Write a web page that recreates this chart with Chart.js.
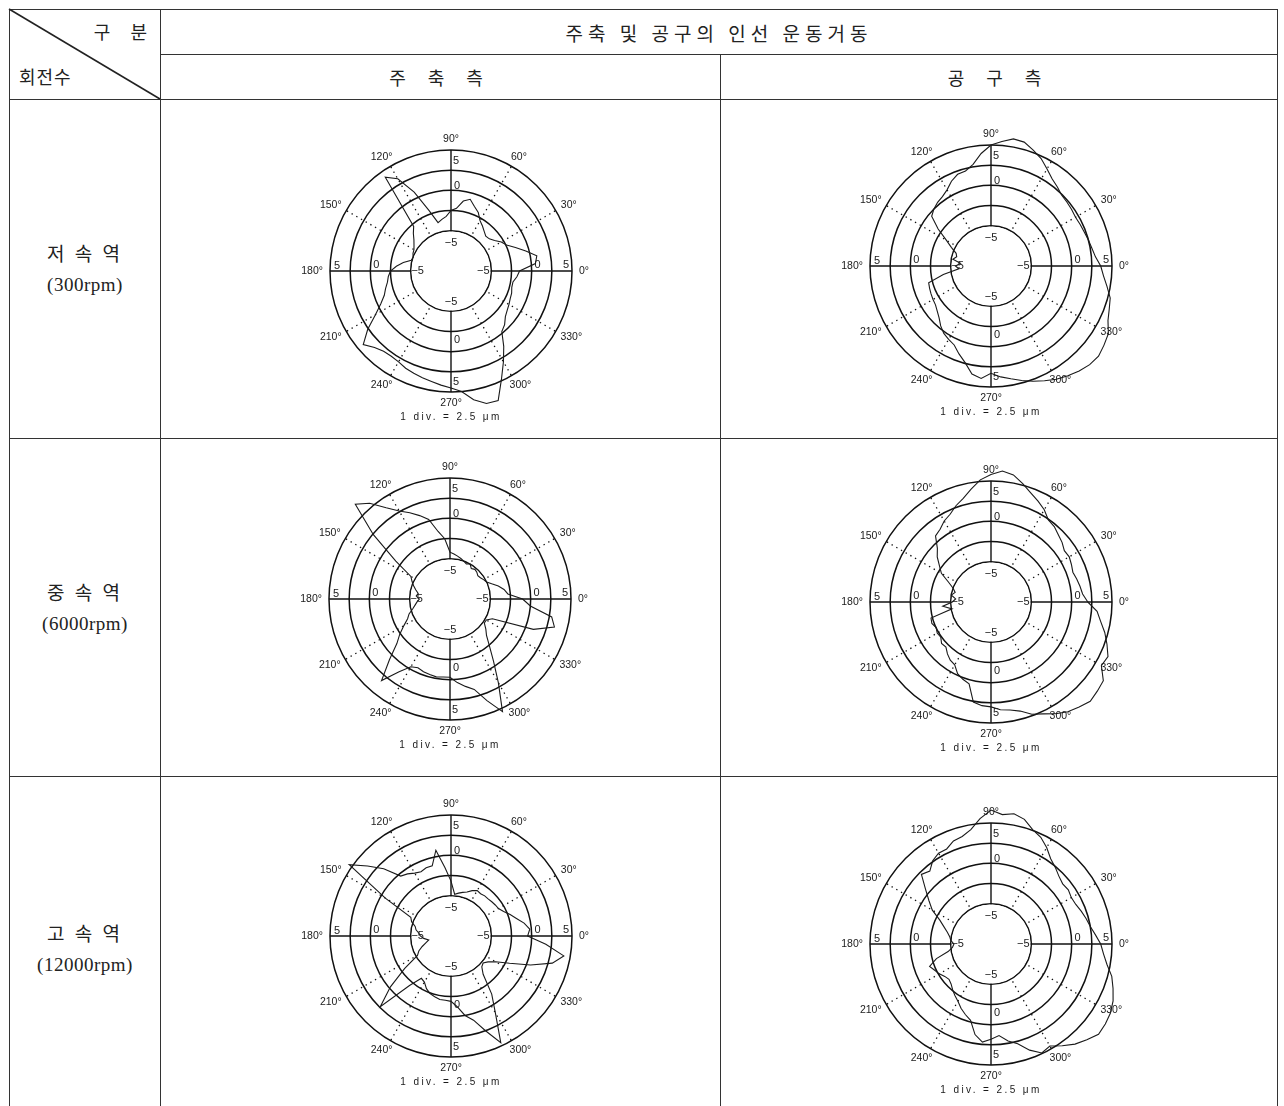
<!DOCTYPE html>
<html>
<head>
<meta charset="utf-8">
<script src="https://cdn.jsdelivr.net/npm/chart.js@4.4.1/dist/chart.umd.min.js"></script>
<style>
    body { margin: 0; background: #fff; width: 1284px; height: 1106px; overflow: hidden; position: relative; }
    table { position: absolute; left: 9px; top: 9px; border-collapse: collapse; table-layout: fixed; }
    td { border: 1.5px solid #333; padding: 0; text-align: center; vertical-align: middle; color: #222;
         font-family: "Noto Sans CJK KR", sans-serif; font-size: 18px; }
    .spaced { letter-spacing: 9px; }
    .title { font-size: 19px; letter-spacing: 5px; }
    .corner { position: relative; }
    .gb { position: absolute; right: 5px; top: 8px; letter-spacing: 8px; }
    .rs { position: absolute; left: 9px; bottom: 10px; letter-spacing: 1px; }
    .rowlab { line-height: 30px; }
    .rowname { font-size: 19px; letter-spacing: 3px; }
    .rpm { font-family: "Liberation Serif", serif; font-size: 19px; letter-spacing: 0.5px; }
    .panel { position: absolute; width: 340px; height: 340px; }
    svg.diag { position: absolute; left: 0; top: 0; }
</style>
</head>
<body>
<table>
    <colgroup><col style="width:151px"><col style="width:560px"><col style="width:557px"></colgroup>
    <tr style="height:45px">
        <td rowspan="2" class="corner"><span class="gb">구 분</span><span class="rs">회전수</span></td>
        <td colspan="2" class="title">주축 및 공구의 인선 운동거동</td>
    </tr>
    <tr style="height:45px">
        <td class="spaced">주 축 측</td>
        <td class="spaced">공 구 측</td>
    </tr>
    <tr style="height:339px">
        <td class="rowlab"><span class="rowname">저 속 역</span><br><span class="rpm">(300rpm)</span></td><td></td><td></td>
    </tr>
    <tr style="height:338px">
        <td class="rowlab"><span class="rowname">중 속 역</span><br><span class="rpm">(6000rpm)</span></td><td></td><td></td>
    </tr>
    <tr style="height:345px">
        <td class="rowlab"><span class="rowname">고 속 역</span><br><span class="rpm">(12000rpm)</span></td><td></td><td></td>
    </tr>
</table>
<svg class="diag" width="170" height="110"><line x1="9" y1="9" x2="160" y2="99" stroke="#222" stroke-width="1.6"/></svg>

<div class="panel" style="left:281px;top:101px"><canvas id="c1"></canvas></div>
<div class="panel" style="left:821px;top:96px"><canvas id="c2"></canvas></div>
<div class="panel" style="left:280px;top:429px"><canvas id="c3"></canvas></div>
<div class="panel" style="left:821px;top:432px"><canvas id="c4"></canvas></div>
<div class="panel" style="left:281px;top:766px"><canvas id="c5"></canvas></div>
<div class="panel" style="left:821px;top:774px"><canvas id="c6"></canvas></div>

<script>
// measuring angle (deg, counter-clockwise from 0°)
const angles = [0, 5, 10, 15, 20, 25, 30, 35, 40, 45, 50, 55,
    60, 65, 70, 75, 80, 85, 90, 95, 100, 105, 110, 115,
    120, 125, 130, 135, 140, 145, 150, 155, 160, 165, 170, 175,
    180, 185, 190, 195, 200, 205, 210, 215, 220, 225, 230, 235,
    240, 245, 250, 255, 260, 265, 270, 275, 280, 285, 290, 295,
    300, 305, 310, 315, 320, 325, 330, 335, 340, 345, 350, 355];

// 주축 측 / 공구 측 runout (μm) at each angle
const mainLow = [-1.5, 0.5, 0.8, -0.4, -1.5, -2.4, -2.8, -3.4, -3.8, -3.9, -3.6, -3.2,
    -2.8, -2.0, -1.5, -0.8, -1.2, -2.2, -2.5, -3.2, -3.5, -3.8, -2.0, 0.8,
    3.2, 4.2, -2.8, -3.4, -4.0, -4.4, -4.7, -4.8, -5.0, -4.9, -4.0, -3.2,
    -2.5, -2.2, -2.0, -1.6, -1.2, -0.4, 0.8, 2.6, 4.2, 3.4, 3.0, 2.9,
    3.0, 3.3, 3.5, 3.7, 3.9, 4.2, 4.5, 5.0, 6.2, 7.0, 7.1, 4.8,
    3.0, 1.4, -0.2, -0.6, -1.2, -1.5, -1.7, -1.9, -2.0, -2.2, -2.2, -1.8];
const toolLow = [3.6, 3.0, 2.7, 2.5, 2.3, 2.2, 2.1, 2.2, 2.3, 2.4, 2.8, 3.2,
    3.9, 4.7, 5.3, 5.9, 6.0, 5.5, 5.0, 4.0, 2.8, 2.2, 2.1, 1.6,
    0.9, 0.5, 0.3, 0.0, -0.4, -2.0, -3.6, -4.6, -5.4, -5.6, -5.2, -6.2,
    -5.6, -6.0, -4.0, -2.0, -1.9, -1.8, -1.7, -1.6, -1.3, -0.9, -0.3, 0.2,
    0.5, 0.8, 1.6, 2.4, 3.6, 4.0, 3.3, 3.8, 4.2, 4.7, 5.2, 5.7,
    6.2, 6.6, 7.0, 7.3, 7.4, 7.1, 6.8, 6.0, 5.6, 5.3, 4.6, 4.0];
const mainMid = [-1.0, -2.8, -3.2, -3.8, -4.5, -5.0, -5.2, -5.4, -5.5, -5.3, -5.2, -5.4,
    -5.0, -5.2, -5.0, -4.8, -4.6, -4.4, -4.2, -2.5, -1.5, 0.2, 1.0, 1.8,
    2.6, 3.8, 5.5, 6.6, 2.4, -1.8, -4.4, -4.8, -5.2, -5.6, -6.0, -5.8,
    -6.2, -5.9, -5.6, -5.2, -4.6, -4.2, -3.4, -2.4, -1.4, 0.6, 3.2, 1.0,
    -0.3, -0.6, -0.4, -0.3, -0.2, -0.3, -0.3, 0.4, 1.0, 1.6, 3.4, 5.4,
    2.0, -0.6, -2.4, -3.6, -4.2, -4.8, -4.8, -4.2, 1.0, 3.4, 2.8, 0.0];
const toolMid = [2.0, 1.4, 1.2, 1.0, 0.8, 1.0, 1.2, 1.1, 1.5, 1.8, 2.2, 2.4,
    3.2, 3.8, 4.4, 5.2, 6.0, 6.3, 5.8, 5.2, 4.2, 3.3, 2.7, 2.0,
    1.6, 1.0, 0.7, -0.6, -1.3, -2.2, -2.9, -4.2, -5.0, -5.4, -5.0, -5.6,
    -5.2, -4.0, -5.1, -2.3, -2.2, -2.5, -2.3, -2.4, -2.0, -2.1, -1.6, -1.2,
    -1.0, -0.2, 0.2, 0.5, 2.6, 2.9, 3.0, 3.4, 3.6, 4.0, 4.8, 5.3,
    6.0, 6.6, 7.0, 7.4, 7.2, 7.0, 5.8, 6.0, 5.3, 4.6, 3.8, 3.2];
const mainHigh = [-0.5, -0.2, -0.8, -1.6, -2.2, -2.8, -3.2, -3.3, -3.4, -3.5, -3.5, -3.6,
    -3.5, -3.8, -4.2, -4.4, -4.6, -4.8, -3.2, -1.5, 0.8, -1.0, -1.0, -1.2,
    -1.0, -0.6, -0.3, 1.8, 3.5, 5.4, -0.6, -4.5, -4.8, -5.4, -5.6, -6.0,
    -6.2, -6.6, -7.2, -6.8, -6.2, -5.6, -5.2, -3.0, -0.2, 2.4, -2.0, -3.6,
    -3.4, -2.8, -2.4, -2.2, -2.0, -2.0, -1.9, -1.2, 0.0, 0.8, 2.5, 4.6,
    1.0, -1.2, -3.8, -4.6, -4.8, -4.4, -3.6, -2.0, 0.5, 3.0, 4.2, 1.8];
const toolHigh = [3.6, 3.0, 2.5, 2.2, 1.9, 1.6, 1.5, 1.7, 1.6, 1.9, 2.4, 2.9,
    3.8, 4.6, 5.1, 6.0, 6.4, 6.1, 6.6, 5.6, 4.4, 3.8, 3.6, 3.0,
    3.0, 2.6, 1.8, 2.2, 0.6, -0.6, -1.6, -3.0, -3.8, -4.4, -4.8, -5.0,
    -5.4, -5.2, -4.6, -3.0, -1.9, -2.3, -2.6, -3.0, -3.2, -3.0, -2.6, -2.2,
    -1.8, -1.2, -0.7, -0.2, 1.4, 2.2, 1.8, 1.4, 2.2, 2.8, 4.0, 4.9,
    4.6, 5.4, 6.2, 6.8, 7.4, 7.3, 7.1, 6.7, 6.1, 5.5, 4.6, 4.0];

// axis ticks and labels
const ringTicks = [-5, 0, 5];
const angleTicks = [0, 30, 60, 90, 120, 150, 180, 210, 240, 270, 300, 330];
const divNote = '1 div. = 2.5 μm';

// where each ring number sits next to the axis: [value, axis angle, radial shift, dx, dy]
const ringSpots = [
    [-5, 180, -7, 0, 0], [0, 180, -6, 0, -6], [5, 180, -7, 0, -5],
    [-5, 0, -8, 0, 0], [0, 0, 6, 0, -6], [5, 0, -6, 0, -6],
    [-5, 90, -12, 0, 0], [0, 90, 4, 6, 0], [5, 90, -11, 5, 0],
    [-5, 270, -9, 0, 0], [0, 270, -12, 6, 0], [5, 270, -10, 5, 0]
];

const polarDecor = {
    id: 'polarDecor',
    beforeDatasetsDraw(chart) {
        const s = chart.scales.r;
        const ctx = chart.ctx;
        const cx = s.xCenter, cy = s.yCenter;
        const R = s.drawingArea;
        ctx.save();
        // the plot is empty inside the -5 ring
        ctx.fillStyle = '#fff';
        ctx.beginPath();
        ctx.arc(cx, cy, s.getDistanceFromCenterForValue(-5) - 0.9, 0, Math.PI * 2);
        ctx.fill();

        ctx.fillStyle = '#1a1a1a';
        ctx.textAlign = 'center';
        ctx.textBaseline = 'middle';
        ctx.font = '11px "Liberation Sans"';
        ringSpots.forEach(([v, a, shift, dx, dy]) => {
            if (!ringTicks.includes(v)) return;
            const d = s.getDistanceFromCenterForValue(v) + shift;
            const rad = a * Math.PI / 180;
            const text = v < 0 ? '−' + Math.abs(v) : String(v);
            ctx.fillText(text, cx + Math.cos(rad) * d + dx, cy - Math.sin(rad) * d + dy);
        });

        ctx.font = '10.5px "Liberation Sans"';
        angleTicks.forEach(a => {
            const t = a + '°';
            const w = ctx.measureText(t).width;
            const rad = a * Math.PI / 180;
            const c = Math.cos(rad), sn = Math.sin(rad);
            ctx.fillText(t, cx + c * (R + 7) + c * w / 2, cy - sn * (R + 7) - sn * 4);
        });

        ctx.font = '10px "Liberation Sans"';
        ctx.letterSpacing = '2.4px';
        ctx.fillText(divNote, cx, cy + 146);
        ctx.restore();
    }
};

const drawOrder = angles.map((a, i) => (angles.length - i) % angles.length);

const makePolar = (canvasId, series) => {
    const ctx = document.getElementById(canvasId).getContext('2d');
    return new Chart(ctx, {
        type: 'radar',
        data: {
            labels: drawOrder.map(k => String(angles[k])),
            datasets: [{
                data: drawOrder.map(k => series[k]),
                borderColor: '#1a1a1a',
                borderWidth: 1.1,
                fill: false,
                pointRadius: 0,
                tension: 0
            }]
        },
        options: {
            responsive: true,
            maintainAspectRatio: false,
            animation: false,
            layout: { padding: 49 },
            plugins: {
                legend: { display: false },
                tooltip: { enabled: false }
            },
            scales: {
                r: {
                    min: -10,
                    max: 5,
                    startAngle: 90,
                    ticks: { display: false, stepSize: 2.5 },
                    pointLabels: { display: false },
                    grid: {
                        circular: true,
                        color: '#111',
                        lineWidth: c => (c.tick && c.tick.value >= -5 ? 1.5 : 0)
                    },
                    angleLines: {
                        color: '#111',
                        lineWidth: c => {
                            const a = Number(c.label);
                            if (a % 90 === 0) return 1.4;
                            return a % 30 === 0 ? 1.3 : 0;
                        },
                        borderDash: c => (Number(c.label) % 90 === 0 ? [] : [1.4, 4])
                    }
                }
            }
        },
        plugins: [polarDecor]
    });
};

makePolar('c1', mainLow);
makePolar('c2', toolLow);
makePolar('c3', mainMid);
makePolar('c4', toolMid);
makePolar('c5', mainHigh);
makePolar('c6', toolHigh);
</script>
</body>
</html>
